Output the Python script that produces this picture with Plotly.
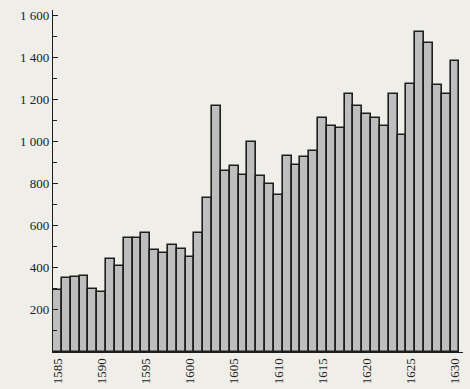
import plotly.graph_objects as go

years = list(range(1585, 1631))
values = [295, 350, 355, 362, 300, 283, 442, 407, 540, 540,
          567, 485, 470, 506, 491, 450, 563, 732, 1169, 861,
          883, 840, 998, 837, 796, 747, 932, 888, 925, 956,
          1109, 1072, 1066, 1223, 1169, 1132, 1109, 1075, 1223, 1032,
          1275, 1521, 1467, 1269, 1227, 1380]
y_ticks = [200, 400, 600, 800, 1000, 1200, 1400, 1600]
y_tick_labels = ["200", "400", "600", "800", "1 000", "1 200", "1 400", "1 600"]
x_ticks = [1585, 1590, 1595, 1600, 1605, 1610, 1615, 1620, 1625, 1630]

bg = "#efeee9"
font_family = "Liberation Serif, DejaVu Serif, serif"

fig = go.Figure(go.Bar(
    x=years, y=values,
    marker=dict(color="#bebebe", line=dict(color="#1e1e1e", width=1.6)),
    width=1.0,
    hoverinfo="skip",
))

fig.update_layout(
    width=470, height=389,
    margin=dict(l=53, r=7, t=10, b=37),
    paper_bgcolor=bg, plot_bgcolor=bg,
    bargap=0, showlegend=False,
    font=dict(family=font_family, color="#222222", size=12),
)
fig.update_xaxes(
    range=[1584.5, 1630.9],
    tickmode="array", tickvals=x_ticks, ticktext=[str(v) for v in x_ticks],
    tickangle=-90, ticks="", showgrid=False, zeroline=False,
    showline=True, linecolor="#1e1e1e", linewidth=1.3,
    tickfont=dict(size=13, family=font_family), automargin=False,
)
fig.update_yaxes(
    range=[0, 1624],
    tickmode="array", tickvals=y_ticks, ticktext=y_tick_labels,
    ticks="inside", ticklen=5, tickcolor="#1e1e1e", tickwidth=1,
    minor=dict(tickvals=[100, 300, 500, 700, 900, 1100, 1300, 1500],
               ticks="inside", ticklen=4, tickcolor="#1e1e1e", tickwidth=1),
    showgrid=False, zeroline=False,
    showline=True, linecolor="#1e1e1e", linewidth=1.3,
    tickfont=dict(size=13, family=font_family), automargin=False,
)

fig.write_html("out.html", config={"displayModeBar": False},
               post_script="document.body.style.margin='0';document.body.style.background='#efeee9';")
